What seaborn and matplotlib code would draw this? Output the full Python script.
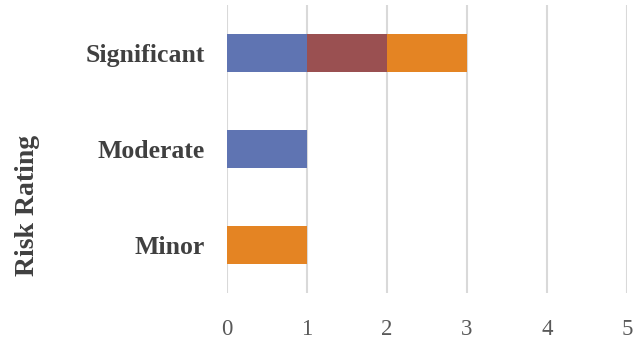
import matplotlib
matplotlib.use("Agg")
import matplotlib.pyplot as plt
import pandas as pd
import seaborn as sns

# data
ratings = ["Significant", "Moderate", "Minor"]
series_a = [1, 1, 0]   # blue
series_b = [1, 0, 0]   # dark red
series_c = [1, 0, 1]   # orange
x_ticks = [0, 1, 2, 3, 4, 5]

BLUE = "#5F74B2"
RED = "#9A5051"
ORANGE = "#E48423"

df = pd.DataFrame({"rating": ratings, "a": series_a, "b": series_b, "c": series_c})
df["ab"] = df["a"] + df["b"]
df["abc"] = df["ab"] + df["c"]

sns.set_style("white")
plt.rcParams["font.family"] = ["Liberation Serif", "DejaVu Serif"]

fig = plt.figure(figsize=(6.43, 3.41), dpi=100)
ax = fig.add_axes([227 / 643, 48 / 341, 400 / 643, 288 / 341])

# stacked bars: draw cumulative totals, largest first
for col, colour in [("abc", ORANGE), ("ab", RED), ("a", BLUE)]:
    sns.barplot(data=df, x=col, y="rating", order=ratings, orient="h",
                color=colour, width=0.4, linewidth=0, saturation=1, ax=ax)

ax.set_xlim(0, 5)
ax.set_ylim(2.5, -0.5)
ax.set_xticks(x_ticks)
ax.set_xticklabels([str(t) for t in x_ticks], fontsize=16.5, color="#595959")
ax.tick_params(axis="x", length=0, pad=19)
ax.tick_params(axis="y", length=0, pad=16)
for lbl in ax.get_yticklabels():
    lbl.set_fontsize(18.5)
    lbl.set_fontweight("bold")
    lbl.set_color("#404040")

ax.xaxis.grid(True, color="#D9D9D9", linewidth=1.5)
ax.set_axisbelow(True)
for s in ax.spines.values():
    s.set_visible(False)

ax.set_xlabel("")
ax.set_ylabel("")
fig.text(28 / 643, 1 - 205 / 341, "Risk Rating", rotation=90, ha="center", va="center",
         fontsize=20, fontweight="bold", color="#404040")

fig.savefig("out.png", dpi=100)
